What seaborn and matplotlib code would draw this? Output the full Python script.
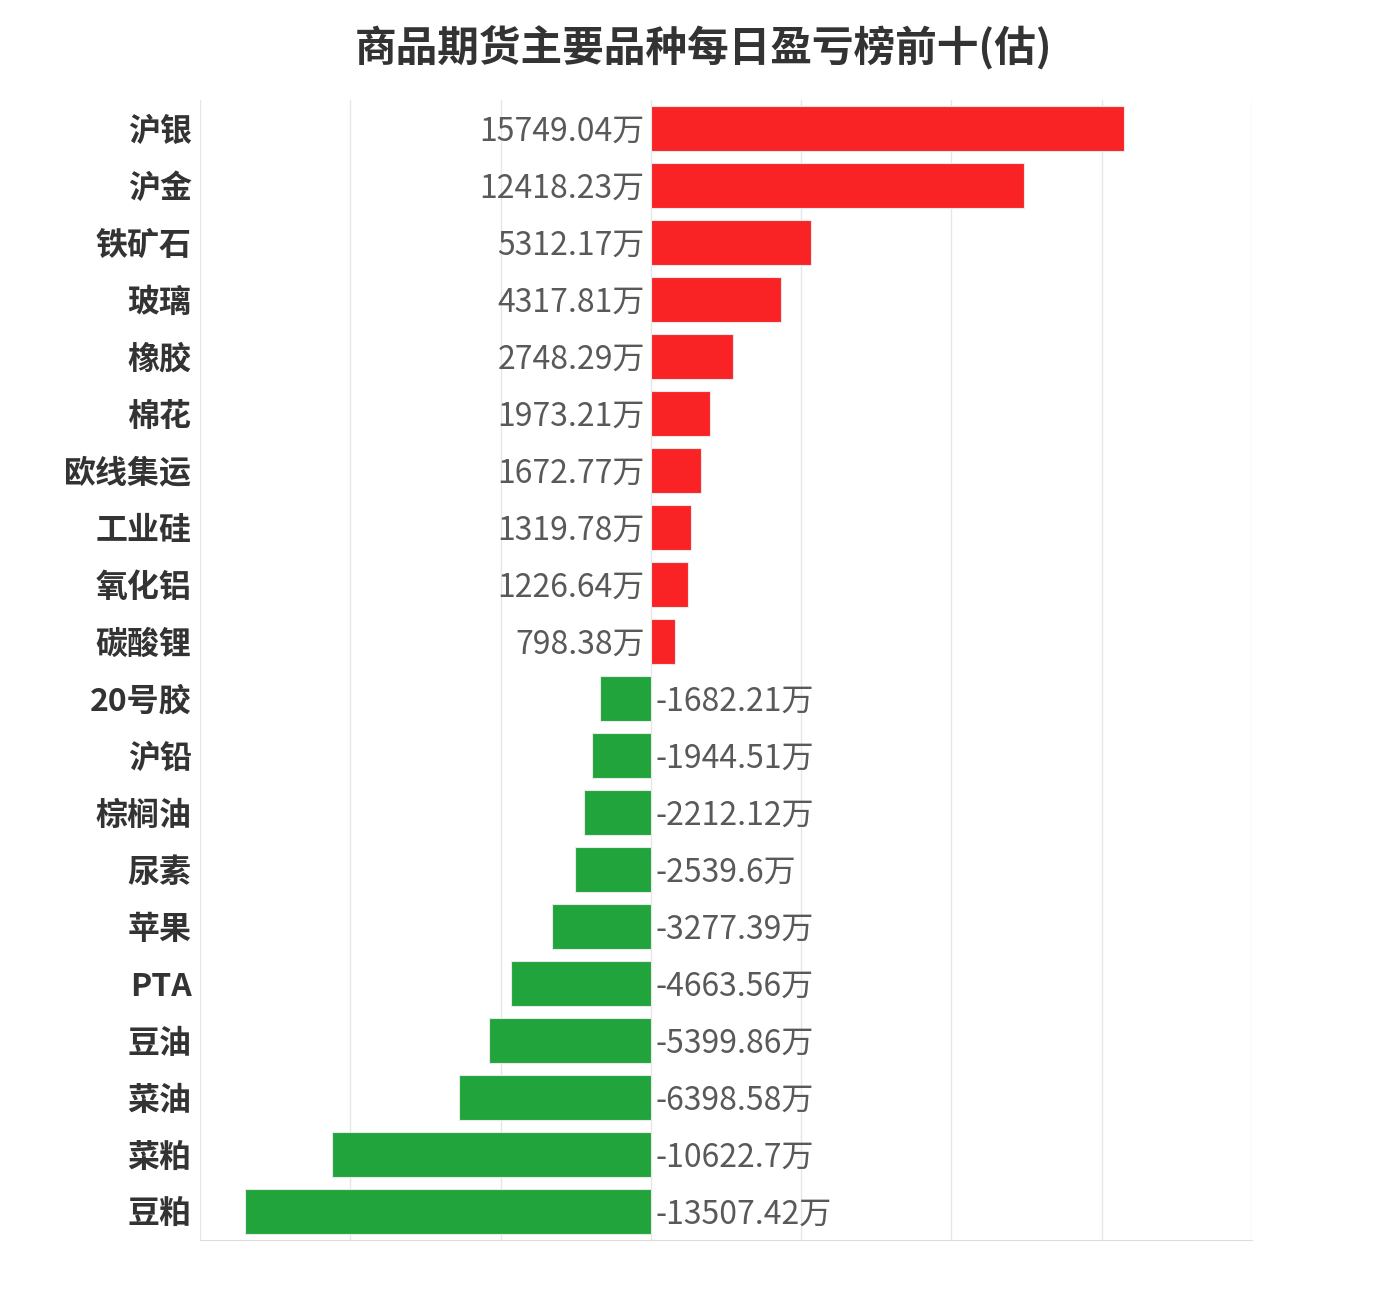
import matplotlib
matplotlib.use("Agg")
import matplotlib.pyplot as plt
import pandas as pd
import seaborn as sns

names = ["沪银", "沪金", "铁矿石", "玻璃", "橡胶", "棉花", "欧线集运", "工业硅", "氧化铝", "碳酸锂",
         "20号胶", "沪铅", "棕榈油", "尿素", "苹果", "PTA", "豆油", "菜油", "菜粕", "豆粕"]
values = [15749.04, 12418.23, 5312.17, 4317.81, 2748.29, 1973.21, 1672.77, 1319.78, 1226.64, 798.38,
          -1682.21, -1944.51, -2212.12, -2539.6, -3277.39, -4663.56, -5399.86, -6398.58, -10622.7, -13507.42]
value_labels = ["15749.04万", "12418.23万", "5312.17万", "4317.81万", "2748.29万", "1973.21万",
                "1672.77万", "1319.78万", "1226.64万", "798.38万", "-1682.21万", "-1944.51万",
                "-2212.12万", "-2539.6万", "-3277.39万", "-4663.56万", "-5399.86万", "-6398.58万",
                "-10622.7万", "-13507.42万"]

RED = "#F92325"
GREEN = "#21A43B"

df = pd.DataFrame({"name": names, "value": values, "label": value_labels})
df["sign"] = ["pos" if v > 0 else "neg" for v in values]

sns.set_style("white")
plt.rcParams["font.family"] = ["Noto Sans CJK SC", "DejaVu Sans"]

fig = plt.figure(figsize=(13.91, 13.0), dpi=100)
ax = fig.add_axes([200 / 1391, 1 - 1240 / 1300, 1052 / 1391, 1140 / 1300])

sns.barplot(data=df, x="value", y="name", hue="sign", palette={"pos": RED, "neg": GREEN},
            orient="h", width=0.79, dodge=False, legend=False, saturation=1, ax=ax,
            edgecolor="#e8e8e8", linewidth=0.8, zorder=3)

ax.set_xlim(-15000, 20000)
ax.set_ylim(19.5, -0.5)
ax.set_xticks(range(-15000, 20001, 5000))
ax.set_xticklabels([])
ax.tick_params(axis="x", length=0)
ax.tick_params(axis="y", length=0, pad=6, labelsize=23, labelcolor="#333333")
for t in ax.get_yticklabels():
    t.set_fontweight("bold")
ax.grid(axis="x", color="#e6e6e6", linewidth=1, zorder=0)
ax.set_xlabel("")
ax.set_ylabel("")
for side in ["top", "right", "left"]:
    ax.spines[side].set_visible(False)
ax.spines["bottom"].set_color("#dddddd")

for i, (v, lab) in enumerate(zip(values, value_labels)):
    if v > 0:
        ax.text(-200, i + 0.05, lab, ha="right", va="center", fontsize=23,
                fontweight="medium", color="#595959")
    else:
        ax.text(150, i + 0.05, lab, ha="left", va="center", fontsize=23,
                fontweight="medium", color="#595959")

fig.text(703 / 1391, 1 - 47 / 1300, "商品期货主要品种每日盈亏榜前十(估)", ha="center", va="center",
         fontsize=30, fontweight="bold", color="#333333")

fig.savefig("out.png", dpi=100)
